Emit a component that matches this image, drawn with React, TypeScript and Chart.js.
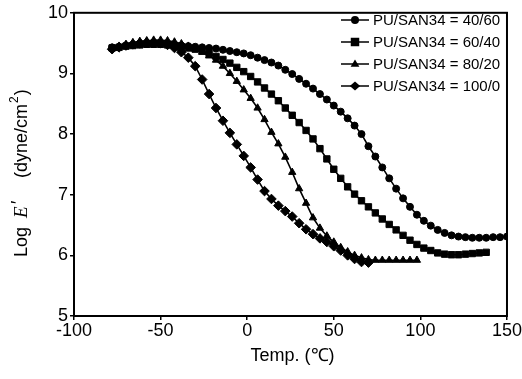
import React, { useEffect, useRef } from 'react';
import { Chart, registerables } from 'chart.js';

Chart.register(...registerables);

// ---- data ----
const seriesNames = ['PU/SAN34 = 40/60', 'PU/SAN34 = 60/40', 'PU/SAN34 = 80/20', 'PU/SAN34 = 100/0'];
const pointStyles = ['circle', 'rect', 'triangle', 'rectRot'];

const tempA = [-78,-74,-70,-66,-62,-58,-54,-50,-46,-42,-38,-34,-30,-26,-22,-18,-14,-10,-6,-2,2,6,10,14,18,22,26,30,34,38,42,46,50,54,58,62,66,70,74,78,82,86,90,94,98,102,106,110,114,118,122,126,130,134,138,142,146,150];
const logA = [9.43,9.44,9.46,9.47,9.48,9.49,9.49,9.49,9.48,9.47,9.46,9.45,9.44,9.43,9.42,9.41,9.39,9.37,9.35,9.33,9.30,9.26,9.22,9.18,9.13,9.06,8.99,8.91,8.83,8.75,8.66,8.57,8.47,8.37,8.26,8.14,8.00,7.80,7.63,7.45,7.27,7.10,6.94,6.80,6.67,6.57,6.49,6.42,6.37,6.33,6.31,6.30,6.29,6.29,6.29,6.30,6.30,6.31];

const tempB = [-78,-74,-70,-66,-62,-58,-54,-50,-46,-42,-38,-34,-30,-26,-22,-18,-14,-10,-6,-2,2,6,10,14,18,22,26,30,34,38,42,46,50,54,58,62,66,70,74,78,82,86,90,94,98,102,106,110,114,118,122,126,130,134,138];
const logB = [9.42,9.43,9.45,9.46,9.47,9.48,9.48,9.48,9.47,9.46,9.44,9.42,9.40,9.37,9.33,9.28,9.23,9.17,9.10,9.03,8.95,8.86,8.76,8.66,8.55,8.43,8.31,8.19,8.06,7.92,7.76,7.59,7.42,7.27,7.13,7.01,6.90,6.80,6.70,6.60,6.51,6.42,6.33,6.25,6.18,6.12,6.08,6.04,6.02,6.01,6.01,6.02,6.03,6.04,6.05];

const tempC = [-78,-74,-70,-66,-62,-58,-54,-50,-46,-42,-38,-34,-30,-26,-22,-18,-14,-10,-6,-2,2,6,10,14,18,22,26,30,34,38,42,46,50,54,58,62,66,70,74,78,82,86,90,94,98];
const logC = [9.42,9.45,9.48,9.51,9.53,9.54,9.55,9.55,9.54,9.52,9.49,9.45,9.40,9.35,9.29,9.22,9.12,9.00,8.87,8.73,8.59,8.43,8.24,8.03,7.84,7.62,7.37,7.10,6.86,6.62,6.45,6.32,6.22,6.13,6.06,6.00,5.96,5.93,5.92,5.92,5.92,5.92,5.92,5.92,5.92];

const tempD = [-78,-74,-70,-66,-62,-58,-54,-50,-46,-42,-38,-34,-30,-26,-22,-18,-14,-10,-6,-2,2,6,10,14,18,22,26,30,34,38,42,46,50,54,58,62,66,70];
const logD = [9.40,9.43,9.46,9.48,9.50,9.51,9.51,9.50,9.47,9.42,9.35,9.26,9.12,8.90,8.66,8.43,8.22,8.02,7.83,7.64,7.45,7.25,7.06,6.93,6.82,6.73,6.64,6.53,6.43,6.35,6.28,6.22,6.15,6.08,6.00,5.94,5.89,5.88];

const xTitle = 'Temp. (\u2103)';
const xMin = -100, xMax = 150, xStep = 50;
const yMin = 5, yMax = 10, yStep = 1;

const SANS = '"Liberation Sans", Arial, sans-serif';
const SERIF = '"Liberation Serif", "Times New Roman", serif';

const pointRadii = [3.5, 4.5, 4.2, 4.8];

function drawMarker(ctx: CanvasRenderingContext2D, style: string, x: number, y: number, r: number) {
  ctx.beginPath();
  if (style === 'circle') {
    ctx.arc(x, y, r, 0, Math.PI * 2);
  } else if (style === 'rect') {
    const s = r * Math.SQRT2 / 1.0 * 0.75;
    ctx.rect(x - s, y - s, s * 2, s * 2);
  } else if (style === 'triangle') {
    ctx.moveTo(x, y - r * 1.1);
    ctx.lineTo(x + r * 1.1, y + r * 0.7);
    ctx.lineTo(x - r * 1.1, y + r * 0.7);
    ctx.closePath();
  } else {
    ctx.moveTo(x, y - r * 1.1);
    ctx.lineTo(x + r * 1.3, y);
    ctx.lineTo(x, y + r * 1.1);
    ctx.lineTo(x - r * 1.3, y);
    ctx.closePath();
  }
  ctx.fill();
}

const decorPlugin = {
  id: 'decor',
  afterDraw(chart: any) {
    const ctx: CanvasRenderingContext2D = chart.ctx;
    const ca = chart.chartArea;
    ctx.save();
    // frame
    ctx.strokeStyle = '#000';
    ctx.lineWidth = 2;
    ctx.strokeRect(ca.left, ca.top, ca.right - ca.left, ca.bottom - ca.top);

    // legend
    ctx.fillStyle = '#000';
    ctx.font = `15px ${SANS}`;
    ctx.textBaseline = 'middle';
    ctx.textAlign = 'left';
    const rows = [20, 42, 64, 86];
    seriesNames.forEach((name, i) => {
      const y = rows[i];
      ctx.lineWidth = 1.5;
      ctx.beginPath();
      ctx.moveTo(341, y);
      ctx.lineTo(369, y);
      ctx.stroke();
      drawMarker(ctx, pointStyles[i], 355, y, 4);
      ctx.fillText(name, 373, y + 1);
    });

    // x title
    ctx.font = `18px ${SANS}`;
    ctx.textAlign = 'center';
    ctx.textBaseline = 'middle';
    ctx.fillText(xTitle, (ca.left + ca.right) / 2 + 2, 356);

    // y title (rotated)
    ctx.translate(22, 0);
    ctx.rotate(-Math.PI / 2);
    ctx.textAlign = 'left';
    ctx.textBaseline = 'middle';
    // along rotated axis: x = -screenY
    ctx.font = `18px ${SANS}`;
    ctx.fillText('Log', -257, 0);
    ctx.font = `italic 19px ${SERIF}`;
    ctx.fillText('E', -218, 0);
    ctx.font = `18px ${SANS}`;
    ctx.fillText('\u2032', -204, -3);
    ctx.fillText('(dyne/cm', -178, 0);
    const w = ctx.measureText('(dyne/cm').width;
    ctx.font = `12px ${SANS}`;
    ctx.fillText('2', -178 + w + 1, -7);
    const w2 = ctx.measureText('2').width;
    ctx.font = `18px ${SANS}`;
    ctx.fillText(')', -178 + w + w2 + 2, 0);
    ctx.restore();
  },
};

export default function App() {
  const ref = useRef<HTMLCanvasElement>(null);
  useEffect(() => {
    const mk = (xs: number[], ys: number[]) => xs.map((x, i) => ({ x, y: ys[i] }));
    const datasets = [
      mk(tempA, logA),
      mk(tempB, logB),
      mk(tempC, logC),
      mk(tempD, logD),
    ].map((data, i) => ({
      label: seriesNames[i],
      data,
      showLine: true,
      borderColor: '#000',
      backgroundColor: '#000',
      borderWidth: 1.6,
      pointStyle: pointStyles[i] as any,
      pointRadius: pointRadii[i],
      pointBackgroundColor: '#000',
      pointBorderColor: '#000',
      pointBorderWidth: 1,
      tension: 0,
    }));

    const chart = new Chart(ref.current!, {
      type: 'scatter',
      data: { datasets },
      plugins: [decorPlugin],
      options: {
        animation: false,
        responsive: true,
        maintainAspectRatio: false,
        layout: { padding: { top: 11, right: 13, left: 0, bottom: 0 } },
        plugins: { legend: { display: false }, tooltip: { enabled: false } },
        scales: {
          x: {
            type: 'linear',
            min: xMin,
            max: xMax,
            afterFit: (s: any) => { s.height = 63; },
            ticks: { stepSize: xStep, color: '#000', font: { family: SANS, size: 18 }, padding: 0, maxRotation: 0 },
            grid: { display: true, drawOnChartArea: false, drawTicks: true, tickLength: 4, color: '#000', lineWidth: 1.5 },
            border: { display: true, color: '#000', width: 2 },
          },
          y: {
            type: 'linear',
            min: yMin,
            max: yMax,
            afterFit: (s: any) => { s.width = 74; },
            ticks: { stepSize: yStep, color: '#000', font: { family: SANS, size: 18 }, padding: 2 },
            grid: { display: true, drawOnChartArea: false, drawTicks: true, tickLength: 4, color: '#000', lineWidth: 1.5 },
            border: { display: true, color: '#000', width: 2 },
          },
        },
      },
    });
    return () => chart.destroy();
  }, []);
  return (
    <div style={{ position: 'fixed', left: 0, top: 0, width: 522, height: 379, background: '#fff' }}>
      <canvas ref={ref} />
    </div>
  );
}
